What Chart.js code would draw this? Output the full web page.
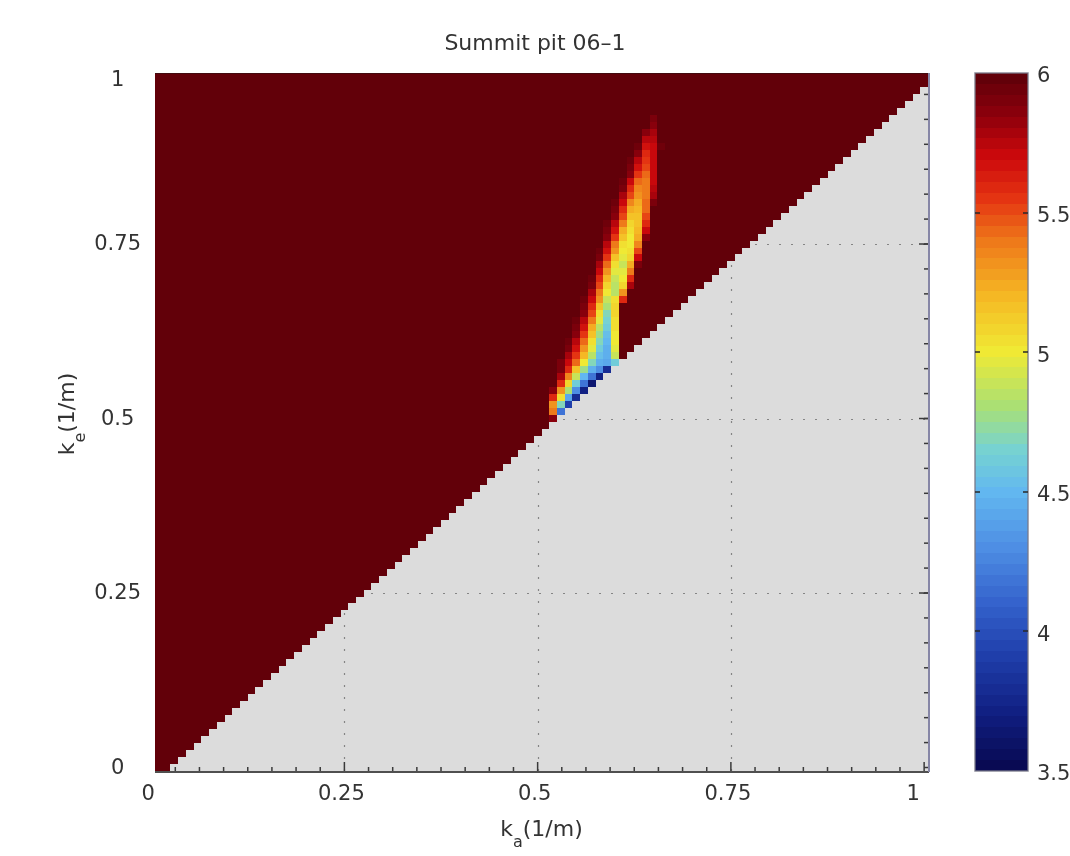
<!DOCTYPE html>
<html>
<head>
<meta charset="utf-8">
<title>Summit pit 06–1</title>
<script src="https://cdn.jsdelivr.net/npm/chart.js@4.4.1/dist/chart.umd.min.js"></script>
<style>
  html, body { margin: 0; padding: 0; background: #ffffff; }
  #wrap { position: relative; width: 1070px; height: 856px; }
</style>
</head>
<body>
<div id="wrap"><canvas id="chart" width="1070" height="856"></canvas></div>
<script>
// ---- labels ----
const chartTitle = 'Summit pit 06–1';
const xAxisLabel = ['k', 'a', '(1/m)'];
const yAxisLabel = ['k', 'e', '(1/m)'];

// ---- tick labels ----
const xTickValues = [0, 0.25, 0.5, 0.75, 1];
const xTickLabels = ['0', '0.25', '0.5', '0.75', '1'];
const yTickValues = [0, 0.25, 0.5, 0.75, 1];
const yTickLabels = ['0', '0.25', '0.5', '0.75', '1'];
const cbTickValues = [3.5, 4, 4.5, 5, 5.5, 6];
const cbTickLabels = ['3.5', '4', '4.5', '5', '5.5', '6'];

// ---- sampling grid: k_a = 0.01 … 1.00, k_e = 0.00 … 0.99 ----
const kaGrid = Array.from({ length: 100 }, (_, i) => +((i + 1) / 100).toFixed(2));
const keGrid = Array.from({ length: 100 }, (_, j) => +(j / 100).toFixed(2));
const cellStep = 0.01;

// cells with k_e below k_a - 0.02 have no solution (left blank)
const solutionOffset = 0.02;

// value shown everywhere in the solution region outside the plume (top of the colour range)
const fieldValue = 6;

// ---- the low-value plume near k_a ≈ 0.52 … 0.66 ----
const plumeKa = [0.52, 0.53, 0.54, 0.55, 0.56, 0.57, 0.58, 0.59, 0.60, 0.61, 0.62, 0.63, 0.64, 0.65, 0.66];
const plumeKe = [0.50, 0.51, 0.52, 0.53, 0.54, 0.55, 0.56, 0.57, 0.58, 0.59, 0.60, 0.61, 0.62, 0.63, 0.64,
                 0.65, 0.66, 0.67, 0.68, 0.69, 0.70, 0.71, 0.72, 0.73, 0.74, 0.75, 0.76, 0.77, 0.78, 0.79,
                 0.80, 0.81, 0.82, 0.83, 0.84, 0.85, 0.86, 0.87, 0.88, 0.89, 0.90, 0.91, 0.92, 0.93];
const plumeValues = [
  [5.85, 6, 6, 6, 6, 6, 6, 6, 6, 6, 6, 6, 6, 6, 6],
  [5.4, 4.2, 6, 6, 6, 6, 6, 6, 6, 6, 6, 6, 6, 6, 6],
  [5.3, 4.7, 3.9, 6, 6, 6, 6, 6, 6, 6, 6, 6, 6, 6, 6],
  [5.6, 5.05, 4.4, 3.8, 6, 6, 6, 6, 6, 6, 6, 6, 6, 6, 6],
  [5.85, 5.3, 4.8, 4.3, 3.7, 6, 6, 6, 6, 6, 6, 6, 6, 6, 6],
  [6, 5.6, 5.1, 4.6, 4.2, 3.65, 6, 6, 6, 6, 6, 6, 6, 6, 6],
  [6, 5.8, 5.35, 4.9, 4.5, 4.2, 3.7, 6, 6, 6, 6, 6, 6, 6, 6],
  [6, 5.9, 5.6, 5.15, 4.75, 4.45, 4.3, 3.8, 6, 6, 6, 6, 6, 6, 6],
  [6, 5.9, 5.7, 5.45, 5.0, 4.7, 4.45, 4.4, 4.6, 6, 6, 6, 6, 6, 6],
  [6, 6, 5.8, 5.55, 5.2, 4.85, 4.55, 4.45, 4.9, 6, 6, 6, 6, 6, 6],
  [6, 6, 5.9, 5.65, 5.3, 4.95, 4.6, 4.45, 4.95, 6, 6, 6, 6, 6, 6],
  [6, 6, 5.95, 5.75, 5.45, 5.05, 4.7, 4.5, 5.0, 6, 6, 6, 6, 6, 6],
  [6, 6, 6, 5.85, 5.55, 5.15, 4.75, 4.55, 5.0, 6, 6, 6, 6, 6, 6],
  [6, 6, 6, 5.9, 5.65, 5.25, 4.85, 4.6, 5.05, 6, 6, 6, 6, 6, 6],
  [6, 6, 6, 5.95, 5.75, 5.4, 4.95, 4.65, 5.05, 6, 6, 6, 6, 6, 6],
  [6, 6, 6, 6, 5.85, 5.5, 5.05, 4.7, 5.1, 6, 6, 6, 6, 6, 6],
  [6, 6, 6, 6, 5.9, 5.6, 5.15, 4.8, 5.1, 6, 6, 6, 6, 6, 6],
  [6, 6, 6, 6, 5.95, 5.7, 5.3, 4.9, 5.05, 5.6, 6, 6, 6, 6, 6],
  [6, 6, 6, 6, 6, 5.8, 5.4, 5.0, 4.85, 5.3, 6, 6, 6, 6, 6],
  [6, 6, 6, 6, 6, 5.9, 5.5, 5.1, 4.85, 5.1, 5.8, 6, 6, 6, 6],
  [6, 6, 6, 6, 6, 5.95, 5.6, 5.2, 4.9, 5.0, 5.6, 6, 6, 6, 6],
  [6, 6, 6, 6, 6, 6, 5.7, 5.3, 4.95, 4.95, 5.4, 6, 6, 6, 6],
  [6, 6, 6, 6, 6, 6, 5.8, 5.45, 5.05, 4.9, 5.25, 5.9, 6, 6, 6],
  [6, 6, 6, 6, 6, 6, 5.9, 5.55, 5.15, 4.95, 5.1, 5.7, 6, 6, 6],
  [6, 6, 6, 6, 6, 6, 5.95, 5.65, 5.3, 5.0, 5.05, 5.5, 6, 6, 6],
  [6, 6, 6, 6, 6, 6, 6, 5.75, 5.4, 5.05, 5.0, 5.35, 6, 6, 6],
  [6, 6, 6, 6, 6, 6, 6, 5.85, 5.55, 5.15, 5.0, 5.25, 5.85, 6, 6],
  [6, 6, 6, 6, 6, 6, 6, 5.9, 5.65, 5.25, 5.05, 5.2, 5.7, 6, 6],
  [6, 6, 6, 6, 6, 6, 6, 5.95, 5.75, 5.4, 5.1, 5.15, 5.6, 6, 6],
  [6, 6, 6, 6, 6, 6, 6, 6, 5.85, 5.5, 5.15, 5.15, 5.5, 6, 6],
  [6, 6, 6, 6, 6, 6, 6, 6, 5.9, 5.6, 5.25, 5.2, 5.45, 6, 6],
  [6, 6, 6, 6, 6, 6, 6, 6, 5.95, 5.7, 5.35, 5.25, 5.45, 5.9, 6],
  [6, 6, 6, 6, 6, 6, 6, 6, 6, 5.8, 5.5, 5.3, 5.4, 5.8, 6],
  [6, 6, 6, 6, 6, 6, 6, 6, 6, 5.9, 5.6, 5.35, 5.4, 5.75, 6],
  [6, 6, 6, 6, 6, 6, 6, 6, 6, 5.95, 5.7, 5.45, 5.4, 5.7, 6],
  [6, 6, 6, 6, 6, 6, 6, 6, 6, 6, 5.85, 5.55, 5.45, 5.7, 6],
  [6, 6, 6, 6, 6, 6, 6, 6, 6, 6, 5.9, 5.65, 5.5, 5.7, 6],
  [6, 6, 6, 6, 6, 6, 6, 6, 6, 6, 5.95, 5.75, 5.55, 5.7, 6],
  [6, 6, 6, 6, 6, 6, 6, 6, 6, 6, 6, 5.85, 5.6, 5.7, 6],
  [6, 6, 6, 6, 6, 6, 6, 6, 6, 6, 6, 5.95, 5.65, 5.7, 5.95],
  [6, 6, 6, 6, 6, 6, 6, 6, 6, 6, 6, 6, 5.75, 5.75, 6],
  [6, 6, 6, 6, 6, 6, 6, 6, 6, 6, 6, 6, 5.85, 5.8, 6],
  [6, 6, 6, 6, 6, 6, 6, 6, 6, 6, 6, 6, 6, 5.85, 6],
  [6, 6, 6, 6, 6, 6, 6, 6, 6, 6, 6, 6, 6, 5.92, 6]
];

// ---- colour scale (jet-like, 64 levels) ----
const colorRange = [3.5, 6];
const colormapLevels = 64;
const colorStops = [
  [3.50, [8, 8, 78]],
  [3.70, [16, 30, 128]],
  [3.90, [30, 60, 168]],
  [4.10, [52, 98, 204]],
  [4.30, [78, 142, 228]],
  [4.50, [98, 184, 240]],
  [4.65, [118, 210, 210]],
  [4.80, [168, 224, 118]],
  [5.00, [240, 234, 52]],
  [5.20, [245, 184, 36]],
  [5.40, [238, 120, 26]],
  [5.55, [228, 52, 18]],
  [5.70, [204, 8, 12]],
  [5.85, [140, 0, 12]],
  [6.00, [92, 0, 8]]
];

// ---- styling ----
const fontFamily = '"DejaVu Sans", Verdana, sans-serif';
const textColor = '#333333';
const blankColor = '#dcdcdc';
const tickFontSize = 21;
const axisFontSize = 22;
const subFontSize = 16;

function interpStop(v) {
  for (let i = 1; i < colorStops.length; i++) {
    const [v1, c1] = colorStops[i];
    if (v <= v1) {
      const [v0, c0] = colorStops[i - 1];
      const t = (v - v0) / (v1 - v0);
      return 'rgb(' + c0.map((c, j) => Math.round(c + (c1[j] - c) * t)).join(',') + ')';
    }
  }
  const last = colorStops[colorStops.length - 1][1];
  return 'rgb(' + last.join(',') + ')';
}
const bandColors = Array.from({ length: colormapLevels }, (_, k) =>
  interpStop(colorRange[0] + (k + 0.5) * (colorRange[1] - colorRange[0]) / colormapLevels));

function colorFor(v) {
  const [lo, hi] = colorRange;
  let k = Math.floor((v - lo) / (hi - lo) * colormapLevels);
  k = Math.max(0, Math.min(colormapLevels - 1, k));
  return bandColors[k];
}

// ---- assemble the cell list ----
const plumeLookup = new Map();
plumeKe.forEach((ke, r) => plumeKa.forEach((ka, c) => {
  plumeLookup.set(ka.toFixed(2) + '|' + ke.toFixed(2), plumeValues[r][c]);
}));
const cells = [];
for (const ka of kaGrid) {
  for (const ke of keGrid) {
    if (ke < ka - solutionOffset - 1e-9) continue;
    const key = ka.toFixed(2) + '|' + ke.toFixed(2);
    const v = plumeLookup.has(key) ? plumeLookup.get(key) : fieldValue;
    cells.push({ x: ka, y: ke, v });
  }
}

function labelFor(values, labels, v) {
  const i = values.findIndex(t => Math.abs(t - v) < 1e-9);
  return i >= 0 ? labels[i] : '';
}

function drawSubscriptLabel(ctx, parts, cx, baseline) {
  const [base, sub, rest] = parts;
  const mainFont = axisFontSize + 'px ' + fontFamily;
  const smallFont = subFontSize + 'px ' + fontFamily;
  ctx.font = mainFont;
  const wBase = ctx.measureText(base).width;
  const wRest = ctx.measureText(rest).width;
  ctx.font = smallFont;
  const wSub = ctx.measureText(sub).width;
  let x = cx - (wBase + wSub + wRest) / 2;
  ctx.textAlign = 'left';
  ctx.textBaseline = 'alphabetic';
  ctx.fillStyle = textColor;
  ctx.font = mainFont; ctx.fillText(base, x, baseline); x += wBase;
  ctx.font = smallFont; ctx.fillText(sub, x, baseline + 11); x += wSub;
  ctx.font = mainFont; ctx.fillText(rest, x, baseline);
}

// keeps tick-label overhang from shrinking the plot box
function fixBox(size, key) {
  return s => {
    s[key] = size;
    s.paddingTop = 0; s.paddingBottom = 0; s.paddingLeft = 0; s.paddingRight = 0;
  };
}

const heatmapLayers = {
  id: 'heatmapLayers',
  beforeDraw(chart) {
    const { ctx, chartArea: a } = chart;
    ctx.save();
    ctx.fillStyle = '#ffffff';
    ctx.fillRect(0, 0, chart.width, chart.height);
    ctx.fillStyle = blankColor;
    ctx.fillRect(a.left, a.top, a.right - a.left, a.bottom - a.top);
    ctx.restore();
  },
  beforeDatasetsDraw(chart) {
    const { ctx, chartArea: a } = chart;
    const xs = chart.scales.x, ys = chart.scales.y;
    ctx.save();
    // dotted grid (only visible where there is no solution)
    ctx.strokeStyle = '#858585';
    ctx.lineWidth = 1.2;
    ctx.setLineDash([2, 10]);
    for (const v of [0.25, 0.5, 0.75]) {
      const px = Math.round(xs.getPixelForValue(v)) + 0.5;
      ctx.beginPath(); ctx.moveTo(px, a.bottom); ctx.lineTo(px, a.top); ctx.stroke();
      const py = Math.round(ys.getPixelForValue(v)) + 0.5;
      ctx.beginPath(); ctx.moveTo(a.left, py); ctx.lineTo(a.right, py); ctx.stroke();
    }
    ctx.setLineDash([]);
    // inward tick marks on bottom and right axes
    ctx.strokeStyle = '#3a3a3a';
    ctx.lineWidth = 1.5;
    for (let v = 0.03125; v < 1.005; v += 0.03125) {
      const px = xs.getPixelForValue(v);
      if (px < a.left + 2 || px > a.right - 2) continue;
      const major = Math.abs(v / 0.25 - Math.round(v / 0.25)) < 1e-6;
      ctx.beginPath(); ctx.moveTo(px, a.bottom); ctx.lineTo(px, a.bottom - (major ? 9 : 4)); ctx.stroke();
    }
    for (let v = 0; v < 0.995; v += 0.25 / 7) {
      const py = ys.getPixelForValue(v);
      if (py < a.top + 2 || py > a.bottom - 2) continue;
      ctx.beginPath(); ctx.moveTo(a.right, py); ctx.lineTo(a.right - 4, py); ctx.stroke();
    }
    for (const v of [0.25, 0.5, 0.75]) {
      const py = ys.getPixelForValue(v);
      ctx.beginPath(); ctx.moveTo(a.right, py); ctx.lineTo(a.right - 9, py); ctx.stroke();
    }
    // image cells, one rectangle per grid point
    const half = cellStep / 2;
    const data = chart.data.datasets[0].data;
    for (const d of data) {
      const x0 = Math.round(xs.getPixelForValue(d.x - half));
      const x1 = Math.round(xs.getPixelForValue(d.x + half));
      const y0 = Math.round(ys.getPixelForValue(d.y + half));
      const y1 = Math.round(ys.getPixelForValue(d.y - half));
      ctx.fillStyle = colorFor(d.v);
      ctx.fillRect(x0, y0, x1 - x0, y1 - y0);
    }
    ctx.restore();
  },
  afterDatasetsDraw(chart) {
    const { ctx, chartArea: a } = chart;
    const xs = chart.scales.x, ys = chart.scales.y, cb = chart.scales.cb;
    ctx.save();
    // axes box lines
    ctx.lineWidth = 2;
    ctx.strokeStyle = '#4f4f4f';
    ctx.beginPath(); ctx.moveTo(a.left, a.bottom + 1); ctx.lineTo(a.right + 1, a.bottom + 1); ctx.stroke();
    ctx.strokeStyle = '#8686a6';
    ctx.beginPath(); ctx.moveTo(a.right + 1, a.top); ctx.lineTo(a.right + 1, a.bottom + 1); ctx.stroke();
    ctx.lineWidth = 1;
    ctx.strokeStyle = 'rgba(40,20,20,0.55)';
    ctx.beginPath(); ctx.moveTo(a.left, a.top + 0.5); ctx.lineTo(a.right, a.top + 0.5); ctx.stroke();

    // colour bar bands
    const barLeft = Math.round(cb.left + 47);
    const barRight = Math.round(cb.left + 100);
    const [lo, hi] = colorRange;
    for (let k = 0; k < colormapLevels; k++) {
      const vLow = lo + k * (hi - lo) / colormapLevels;
      const vHigh = lo + (k + 1) * (hi - lo) / colormapLevels;
      const y0 = Math.round(cb.getPixelForValue(vHigh));
      const y1 = Math.round(cb.getPixelForValue(vLow));
      ctx.fillStyle = bandColors[k];
      ctx.fillRect(barLeft, y0, barRight - barLeft, y1 - y0);
    }
    const barTop = Math.round(cb.getPixelForValue(hi));
    const barBottom = Math.round(cb.getPixelForValue(lo));
    ctx.strokeStyle = 'rgba(120,120,135,0.85)';
    ctx.lineWidth = 1.5;
    ctx.strokeRect(barLeft, barTop, barRight - barLeft, barBottom - barTop);
    ctx.strokeStyle = 'rgba(40,40,40,0.75)';
    ctx.lineWidth = 2;
    for (const v of cbTickValues) {
      if (v <= lo || v >= hi) continue;
      const py = Math.round(cb.getPixelForValue(v));
      ctx.beginPath(); ctx.moveTo(barLeft, py); ctx.lineTo(barLeft + 5, py); ctx.stroke();
      ctx.beginPath(); ctx.moveTo(barRight, py); ctx.lineTo(barRight - 5, py); ctx.stroke();
    }

    // the "1" end labels, set slightly inside the axis ends
    ctx.fillStyle = textColor;
    ctx.font = tickFontSize + 'px ' + fontFamily;
    ctx.textAlign = 'center';
    ctx.textBaseline = 'middle';
    const edgeInset = 11;
    ctx.fillText(labelFor(xTickValues, xTickLabels, 1), xs.getPixelForValue(1) - edgeInset, xs.top + 11 + tickFontSize * 0.6);
    const widest = ctx.measureText('0.75').width;
    ctx.fillText(labelFor(yTickValues, yTickLabels, 1), ys.right - 14 - widest / 2, ys.getPixelForValue(1) + edgeInset);

    // axis titles with subscripts
    drawSubscriptLabel(ctx, xAxisLabel, (a.left + a.right) / 2 + 0, 836);
    ctx.translate(74, (a.top + a.bottom) / 2 - 8);
    ctx.rotate(-Math.PI / 2);
    drawSubscriptLabel(ctx, yAxisLabel, 0, 0);
    ctx.restore();
  }
};

new Chart(document.getElementById('chart'), {
  type: 'scatter',
  data: {
    datasets: [{
      label: 'value',
      data: cells,
      pointRadius: 0,
      pointHoverRadius: 0,
      showLine: false
    }]
  },
  options: {
    responsive: false,
    animation: false,
    events: [],
    devicePixelRatio: 1,
    layout: { padding: 0 },
    plugins: {
      legend: { display: false },
      tooltip: { enabled: false },
      title: {
        display: true,
        text: chartTitle,
        color: textColor,
        font: { family: fontFamily, size: 22, weight: 'normal' },
        padding: { top: 31, bottom: 15.6 }
      }
    },
    scales: {
      x: {
        type: 'linear',
        position: 'bottom',
        min: 0.005,
        max: 1.005,
        grid: { display: false, drawTicks: false },
        border: { display: false },
        afterBuildTicks: s => { s.ticks = xTickValues.filter(v => v < 1).map(value => ({ value })); },
        afterFit: fixBox(85, 'height'),
        ticks: {
          autoSkip: false, maxRotation: 0, padding: 11, labelOffset: -3,
          color: textColor, font: { family: fontFamily, size: tickFontSize },
          callback: v => labelFor(xTickValues, xTickLabels, v)
        }
      },
      y: {
        type: 'linear',
        position: 'left',
        min: -0.005,
        max: 0.995,
        grid: { display: false, drawTicks: false },
        border: { display: false },
        afterBuildTicks: s => { s.ticks = yTickValues.filter(v => v < 1).map(value => ({ value })); },
        afterFit: fixBox(155, 'width'),
        ticks: {
          autoSkip: false, crossAlign: 'center', padding: 14, labelOffset: 1,
          color: textColor, font: { family: fontFamily, size: tickFontSize },
          callback: v => labelFor(yTickValues, yTickLabels, v)
        }
      },
      cb: {
        type: 'linear',
        axis: 'y',
        position: 'right',
        min: colorRange[0],
        max: colorRange[1],
        grid: { display: false, drawTicks: false },
        border: { display: false },
        afterBuildTicks: s => { s.ticks = cbTickValues.map(value => ({ value })); },
        afterFit: fixBox(142, 'width'),
        ticks: {
          autoSkip: false, padding: 109, labelOffset: 4,
          color: textColor, font: { family: fontFamily, size: tickFontSize },
          callback: v => labelFor(cbTickValues, cbTickLabels, v)
        }
      }
    }
  },
  plugins: [heatmapLayers]
});
</script>
</body>
</html>
